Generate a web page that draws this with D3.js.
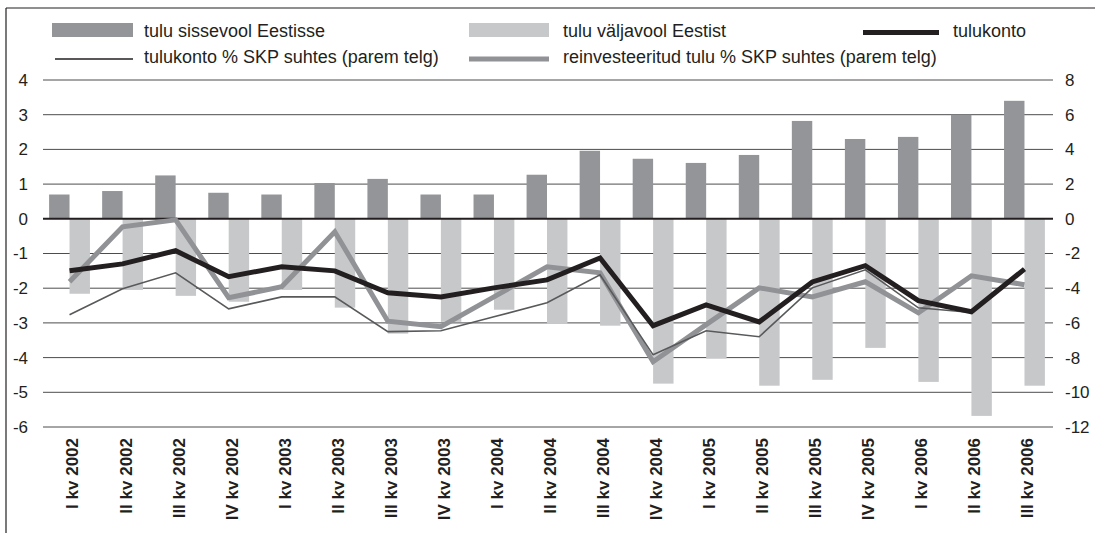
<!DOCTYPE html>
<html><head><meta charset="utf-8">
<script src="https://cdn.jsdelivr.net/npm/d3@7/dist/d3.min.js"></script>
<style>
body{margin:0;background:#fff;}
text{font-family:"Liberation Sans",Arial,sans-serif;fill:#231f20;}
</style></head>
<body><svg id="c" width="1095" height="533"></svg>
<script>
const categories = ["I kv 2002","II kv 2002","III kv 2002","IV kv 2002","I kv 2003","II kv 2003","III kv 2003","IV kv 2003","I kv 2004","II kv 2004","III kv 2004","IV kv 2004","I kv 2005","II kv 2005","III kv 2005","IV kv 2005","I kv 2006","II kv 2006","III kv 2006"];
const inflow = [0.7,0.8,1.25,0.75,0.7,1.03,1.15,0.7,0.7,1.27,1.96,1.73,1.61,1.84,2.82,2.3,2.36,3.0,3.4];
const outflow = [-2.16,-2.05,-2.22,-2.39,-2.05,-2.56,-3.31,-2.97,-2.62,-3.03,-3.08,-4.75,-4.03,-4.81,-4.64,-3.72,-4.7,-5.68,-4.81];
const tulukonto = [-1.5,-1.3,-0.92,-1.67,-1.38,-1.5,-2.13,-2.25,-1.99,-1.76,-1.13,-3.08,-2.48,-2.97,-1.82,-1.35,-2.36,-2.68,-1.45];
const tulukontoPct = [-5.53,-4.03,-3.11,-5.19,-4.5,-4.5,-6.5,-6.45,-5.65,-4.84,-3.23,-7.84,-6.45,-6.8,-3.98,-2.94,-5.13,-5.4,-2.9];
const reinvPct = [-3.63,-0.46,-0.06,-4.55,-3.92,-0.75,-5.9,-6.22,-4.5,-2.77,-3.11,-8.24,-6.1,-3.98,-4.5,-3.63,-5.42,-3.29,-3.8];
const leftTicks = [4,3,2,1,0,-1,-2,-3,-4,-5,-6];
const rightTicks = [8,6,4,2,0,-2,-4,-6,-8,-10,-12];
const legendLabels = ["tulu sissevool Eestisse","tulu väljavool Eestist","tulukonto","tulukonto % SKP suhtes (parem telg)","reinvesteeritud tulu % SKP suhtes (parem telg)"];

const C = {dark:"#939598", light:"#c7c8ca", black:"#231f20", thin:"#58595b", grey:"#919295", grid:"#4d4d4f"};
const svg = d3.select("#c");
const x0 = 43, x1 = 1051, gx1 = 1053;
const x = d3.scaleBand().domain(categories).range([x0,x1]).padding(0);
const yL = d3.scaleLinear().domain([-6,4]).range([427,80]);
const yR = d3.scaleLinear().domain([-12,8]).range([427,80]);
const bw = x.bandwidth(), barW = bw*0.385;
const cx = c => x(c) + bw/2;
const fmt = d => String(d);

// frame
svg.append("line").attr("x1",6).attr("x2",1095).attr("y1",8).attr("y2",8).attr("stroke","#231f20").attr("stroke-width",1.2);
svg.append("line").attr("x1",6).attr("x2",6).attr("y1",8).attr("y2",533).attr("stroke","#231f20").attr("stroke-width",1.2);

// gridlines
const g = svg.append("g");
g.selectAll("line.grid").data(leftTicks.filter(d=>d!==0)).join("line")
  .attr("x1",x0).attr("x2",gx1).attr("y1",d=>yL(d)).attr("y2",d=>yL(d))
  .attr("stroke",C.grid).attr("stroke-width",1);

// axes labels
const axL = d3.axisLeft(yL).tickValues(leftTicks).tickFormat(fmt).tickSize(0).tickPadding(0);
const gl = svg.append("g").attr("transform","translate(28,0)").call(axL);
gl.select(".domain").remove();
gl.selectAll("text").attr("font-size",17).attr("fill","#231f20").style("font-family","Liberation Sans, Arial, sans-serif");
const axR = d3.axisRight(yR).tickValues(rightTicks).tickFormat(fmt).tickSize(0).tickPadding(0);
const gr = svg.append("g").attr("transform","translate(1065,0)").call(axR);
gr.select(".domain").remove();
gr.selectAll("text").attr("font-size",17).attr("fill","#231f20").style("font-family","Liberation Sans, Arial, sans-serif");

// bars
svg.append("g").selectAll("rect").data(categories).join("rect")
  .attr("x",c=>cx(c)-barW).attr("width",barW)
  .attr("y",(c,i)=>yL(inflow[i])).attr("height",(c,i)=>yL(0)-yL(inflow[i]))
  .attr("fill",C.dark);
svg.append("g").selectAll("rect").data(categories).join("rect")
  .attr("x",c=>cx(c)).attr("width",barW)
  .attr("y",yL(0)).attr("height",(c,i)=>yL(outflow[i])-yL(0))
  .attr("fill",C.light);

// zero line
svg.append("line").attr("x1",x0).attr("x2",gx1).attr("y1",yL(0)).attr("y2",yL(0)).attr("stroke",C.black).attr("stroke-width",2);

// lines
const lineR = d3.line().x((d,i)=>cx(categories[i])).y(d=>yR(d));
const lineL = d3.line().x((d,i)=>cx(categories[i])).y(d=>yL(d));
svg.append("path").attr("d",lineR(reinvPct)).attr("fill","none").attr("stroke",C.grey).attr("stroke-width",5).attr("stroke-linejoin","miter");
svg.append("path").attr("d",lineR(tulukontoPct)).attr("fill","none").attr("stroke",C.thin).attr("stroke-width",1.6);
svg.append("path").attr("d",lineL(tulukonto)).attr("fill","none").attr("stroke",C.black).attr("stroke-width",5);

// x labels
svg.append("g").selectAll("text").data(categories).join("text")
  .attr("transform",c=>`translate(${cx(c)+3},438) rotate(-90)`)
  .attr("text-anchor","end").attr("dy","0.35em")
  .attr("font-size",17).attr("font-weight","bold").text(c=>c);

// legend
const lg = svg.append("g");
lg.append("rect").attr("x",52).attr("y",23).attr("width",81).attr("height",14).attr("fill",C.dark);
lg.append("text").attr("x",144).attr("y",37).attr("font-size",18).text(legendLabels[0]);
lg.append("rect").attr("x",469).attr("y",23).attr("width",80).attr("height",14).attr("fill",C.light);
lg.append("text").attr("x",563).attr("y",37).attr("font-size",18).text(legendLabels[1]);
lg.append("line").attr("x1",863).attr("x2",939).attr("y1",32.5).attr("y2",32.5).attr("stroke",C.black).attr("stroke-width",5);
lg.append("text").attr("x",953).attr("y",37).attr("font-size",18).text(legendLabels[2]);
lg.append("line").attr("x1",55).attr("x2",133).attr("y1",59).attr("y2",59).attr("stroke",C.black).attr("stroke-width",1.5);
lg.append("text").attr("x",144).attr("y",63).attr("font-size",18).text(legendLabels[3]);
lg.append("line").attr("x1",469).attr("x2",549).attr("y1",59).attr("y2",59).attr("stroke",C.grey).attr("stroke-width",5);
lg.append("text").attr("x",563).attr("y",63).attr("font-size",18).text(legendLabels[4]);
</script></body></html>
